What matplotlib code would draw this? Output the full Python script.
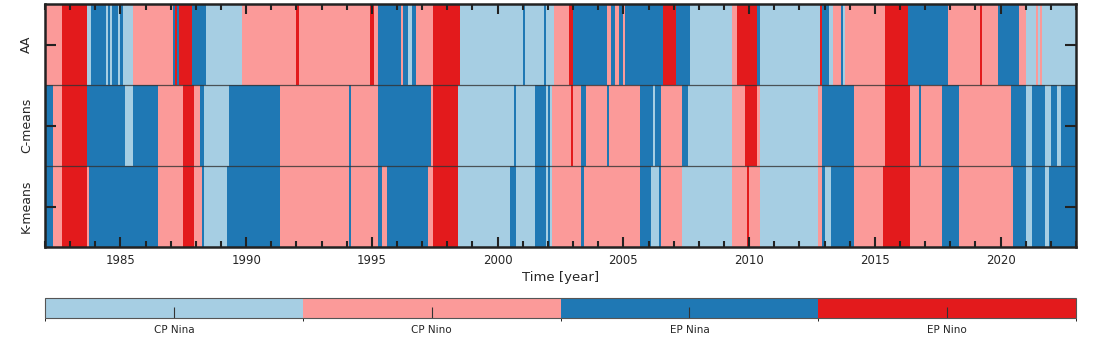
import numpy as np
import matplotlib
matplotlib.use('Agg')
import matplotlib.pyplot as plt
from matplotlib.colors import ListedColormap, BoundaryNorm
from matplotlib.ticker import MultipleLocator

# ENSO phase classes and colours
phases = ['CP Nina', 'CP Nino', 'EP Nina', 'EP Nino']
phase_colors = ['#a6cee3', '#fb9a99', '#1f78b4', '#e31a1c']
methods = ['AA', 'C-means', 'K-means']

start_year = 1982
n_months = 492   # Jan 1982 - Dec 2022

# change points: month index (from Jan 1982) where a new phase starts
# phase codes: 0 CP Nina, 1 CP Nino, 2 EP Nina, 3 EP Nino
aa_start = [0, 8, 20, 22, 29, 30, 31, 32, 35, 36, 37, 42, 61, 62, 63, 64, 70, 77, 94,
            120, 121, 155, 157, 159, 170, 171, 173, 175, 177, 185, 198, 228, 229, 238,
            239, 243, 250, 252, 268, 270, 272, 274, 276, 277, 295, 301, 308, 328, 330,
            340, 341, 370, 371, 374, 376, 380, 381, 382, 401, 412, 431, 446, 447, 455,
            465, 468, 473, 474, 475, 476]
aa_phase = [1, 3, 0, 2, 0, 2, 0, 2, 0, 2, 0, 1, 2, 3, 2, 3, 2, 0, 1,
            3, 1, 3, 1, 2, 1, 2, 0, 2, 1, 3, 0, 2, 0, 2,
            0, 1, 3, 2, 1, 2, 1, 2, 1, 2, 3, 2, 0, 1, 3,
            2, 0, 3, 2, 0, 1, 2, 0, 1, 3, 2, 1, 3, 1, 2,
            1, 0, 1, 0, 1, 0]

cm_start = [0, 4, 8, 20, 38, 42, 54, 66, 71, 74, 76, 88, 112, 145, 146, 159, 184, 185,
            197, 224, 225, 234, 239, 240, 241, 242, 251, 252, 256, 258, 268, 269, 284,
            290, 291, 294, 304, 307, 328, 334, 340, 341, 369, 371, 386, 401, 413, 417,
            418, 428, 436, 461, 468, 471, 477, 480, 483, 485]
cm_phase = [2, 1, 3, 2, 0, 2, 1, 3, 1, 2, 0, 2, 1, 2, 1, 2, 1, 3,
            0, 2, 0, 2, 0, 2, 0, 1, 3, 1, 2, 1, 2, 1, 2,
            0, 2, 1, 2, 0, 1, 3, 1, 0, 1, 2, 1, 3, 1, 2,
            1, 2, 1, 2, 0, 2, 0, 2, 0, 2]

km_start = [0, 4, 8, 20, 21, 54, 66, 71, 75, 76, 87, 112, 145, 146, 159, 161, 163, 183,
            185, 197, 222, 225, 234, 239, 240, 241, 242, 256, 257, 284, 289, 293, 294,
            304, 328, 335, 336, 341, 369, 371, 372, 375, 386, 400, 413, 428, 436, 462,
            468, 471, 477, 479]
km_phase = [2, 1, 3, 1, 2, 1, 3, 1, 2, 0, 2, 1, 2, 1, 2, 1, 2, 1,
            3, 0, 2, 0, 2, 0, 2, 0, 1, 2, 1, 2, 0, 2, 1,
            0, 1, 3, 1, 0, 1, 2, 0, 2, 1, 3, 1, 2, 1, 2,
            0, 2, 0, 2]


def expand(starts, labels):
    """Turn change points into one phase code per month."""
    out = np.zeros(n_months, dtype=int)
    ends = starts[1:] + [n_months]
    for s, e, lab in zip(starts, ends, labels):
        out[s:e] = lab
    return out


grid = np.vstack([expand(aa_start, aa_phase),
                  expand(cm_start, cm_phase),
                  expand(km_start, km_phase)])

x_edges = start_year + np.arange(n_months + 1) / 12.0
y_edges = np.arange(len(methods) + 1)

cmap = ListedColormap(phase_colors)
norm = BoundaryNorm(np.arange(-0.5, 4.5, 1), cmap.N)

W, H = 1098, 354
fig = plt.figure(figsize=(W / 100, H / 100), dpi=100)
text_col = '#262626'

ax = fig.add_axes([45 / W, 1 - 247 / H, 1031 / W, 243 / H])
mesh = ax.pcolormesh(x_edges, y_edges, grid, cmap=cmap, norm=norm,
                     shading='flat', antialiased=False, rasterized=True)
ax.set_ylim(len(methods), 0)
ax.set_xlim(start_year, start_year + n_months / 12.0)

# thin lines between the three rows
for yy in [1, 2]:
    ax.axhline(yy, color='#333333', lw=0.9, alpha=0.8)

ax.set_yticks(np.arange(len(methods)) + 0.5)
ax.set_yticklabels([])
for i, name in enumerate(methods):
    ax.text(-0.018, 1 - (i + 0.5) / len(methods), name, transform=ax.transAxes,
            rotation=90, ha='center', va='center', fontsize=9, color=text_col)

ax.xaxis.set_major_locator(MultipleLocator(5))
ax.xaxis.set_minor_locator(MultipleLocator(1))
ax.tick_params(axis='x', which='major', direction='in', length=7, width=1.5,
               top=True, bottom=True, labelsize=8.5, labelcolor=text_col,
               color='#222222', pad=5)
ax.tick_params(axis='x', which='minor', direction='in', length=4, width=1.5,
               top=True, bottom=True, color='#222222')
ax.tick_params(axis='y', which='major', direction='in', length=8, width=1.5,
               left=True, right=True, color='#222222')
ax.set_xlabel('Time [year]', fontsize=9.5, color=text_col, labelpad=3)
for sp in ax.spines.values():
    sp.set_linewidth(1.8)
    sp.set_color('#222222')

# phase colour bar
cax = fig.add_axes([45 / W, 1 - 318 / H, 1031 / W, 20 / H])
cb = fig.colorbar(mesh, cax=cax, orientation='horizontal', ticks=[0, 1, 2, 3])
cb.set_ticklabels(phases)
cb.ax.tick_params(direction='in', length=8, width=0.8, labelsize=7.5,
                  labelcolor=text_col, color='#333333', pad=5)
cb.outline.set_linewidth(0.8)
cb.outline.set_edgecolor('#555555')

fig.savefig('out.png', dpi=100)
